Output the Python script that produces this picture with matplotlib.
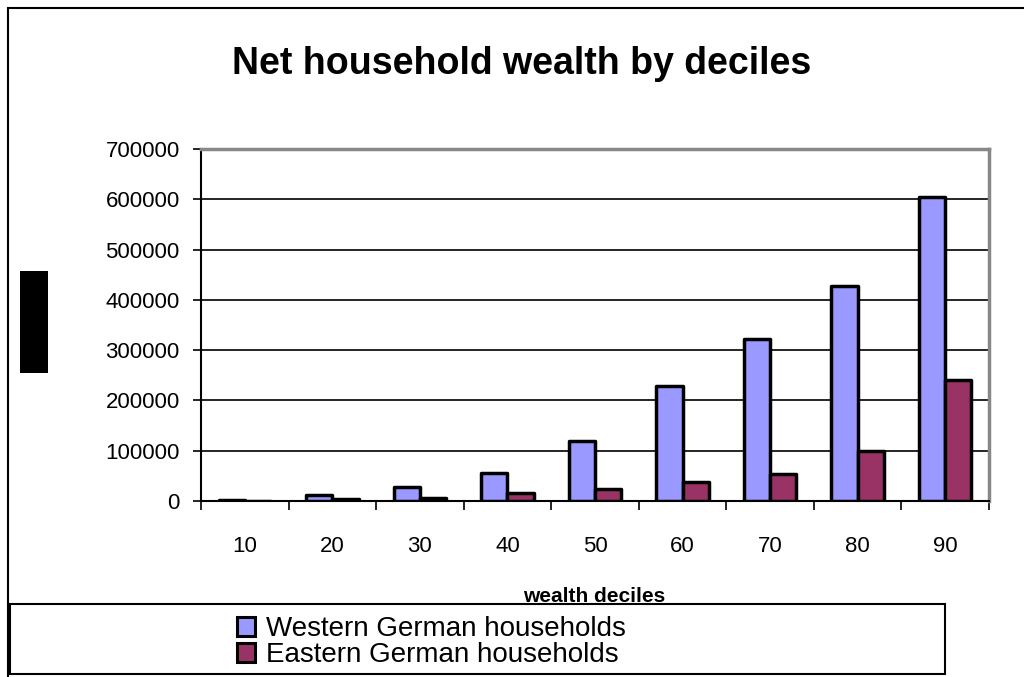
import matplotlib
matplotlib.use('Agg')
import matplotlib.pyplot as plt
from matplotlib.patches import Rectangle
import numpy as np

plt.rcParams['font.family'] = ['Liberation Sans', 'DejaVu Sans']

# data
deciles = ["10", "20", "30", "40", "50", "60", "70", "80", "90"]
west = [1000, 12000, 27000, 56000, 119000, 228000, 323000, 427000, 605000]
east = [500, 3000, 6000, 16000, 24000, 37000, 53000, 100000, 240000]
y_ticks = [0, 100000, 200000, 300000, 400000, 500000, 600000, 700000]

west_color = "#9999FF"
east_color = "#993366"

fig = plt.figure(figsize=(10.24, 6.77), dpi=100)
ax = fig.add_axes([201 / 1024, 1 - 501 / 677, 788 / 1024, 352 / 677])

x = np.arange(len(deciles))
bw = 0.3
ax.bar(x - bw / 2, west, width=bw, color=west_color, edgecolor="black", linewidth=2.5,
       label="Western German households", zorder=3, joinstyle="round")
ax.bar(x + bw / 2, east, width=bw, color=east_color, edgecolor="black", linewidth=2.5,
       label="Eastern German households", zorder=3, joinstyle="round")

ax.set_xlim(-0.5, len(deciles) - 0.5)
ax.set_ylim(0, 700000)
ax.set_yticks(y_ticks)
ax.set_yticklabels([str(v) for v in y_ticks], fontsize=16)
ax.tick_params(axis="y", length=5.8, width=1.2, pad=9.5, direction="out")

# category ticks on the boundaries, labels centred
ax.set_xticks(np.arange(-0.5, len(deciles)), minor=False)
ax.set_xticklabels([""] * (len(deciles) + 1))
ax.set_xticks(x, minor=True)
ax.set_xticklabels(deciles, minor=True, fontsize=16)
ax.tick_params(axis="x", which="major", length=6.5, width=1.2, direction="out")
ax.tick_params(axis="x", which="minor", length=0, pad=25)

for v in y_ticks[1:-1]:
    ax.axhline(v, color="black", linewidth=1.2, zorder=1)

ax.spines["left"].set_linewidth(1.5)
ax.spines["bottom"].set_linewidth(1.5)
ax.spines["top"].set_color("#888888")
ax.spines["right"].set_color("#888888")
ax.spines["top"].set_linewidth(2.5)
ax.spines["right"].set_linewidth(2.5)

fig.text(522 / 1024, 1 - 74 / 677, "Net household wealth by deciles", fontsize=27,
         fontweight="bold", ha="center", va="baseline")
fig.text(594 / 1024, 1 - 602 / 677, "wealth deciles", fontsize=15, fontweight="bold",
         ha="center", va="baseline")

# outer chart border (top and left edges visible)
fig.add_artist(Rectangle((8 / 1024, -0.1), 1.2, 1 - 8 / 677 + 0.1, transform=fig.transFigure,
                         fill=False, edgecolor="black", linewidth=1.5))
# black block where the y label was
fig.add_artist(Rectangle((20 / 1024, 1 - 373 / 677), 28 / 1024, 102 / 677,
                         transform=fig.transFigure, facecolor="black", edgecolor="none"))
# legend box
fig.add_artist(Rectangle((10 / 1024, 1 - 674 / 677), 935 / 1024, 70 / 677,
                         transform=fig.transFigure, fill=False, edgecolor="black", linewidth=1.5))

leg = fig.legend(loc="upper left", bbox_to_anchor=(237 / 1024, 1 - 616 / 677), frameon=False,
                 fontsize=20, handlelength=0.65, handleheight=0.65, handletextpad=0.4,
                 labelspacing=0.0, borderpad=0, borderaxespad=0)
for h in leg.legend_handles:
    h.set_linewidth(2.2)

fig.savefig("out.png", dpi=100)
